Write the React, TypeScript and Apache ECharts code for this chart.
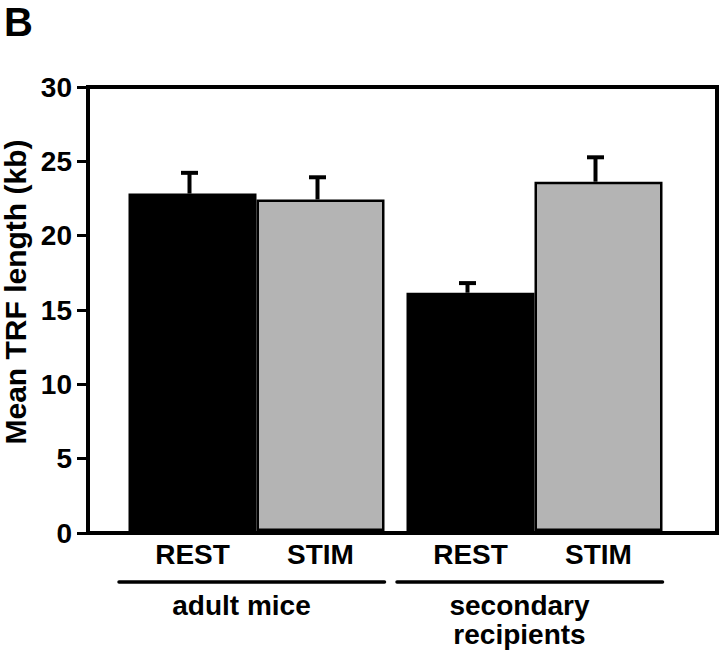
import React, { useEffect, useRef } from "react";
import * as echarts from "echarts";

const groups = ["adult mice", "secondary recipients"];
const conditions = ["REST", "STIM"];
const restMeans = [22.8, 16.1];
const restErrors = [1.4, 0.65];
const stimMeans = [22.4, 23.6];
const stimErrors = [1.5, 1.65];
const yMin = 0;
const yMax = 30;
const yInterval = 5;
const yTitle = "Mean TRF length (kb)";
const panelLetter = "B";

const FONT = "'Liberation Sans', Arial, Helvetica, sans-serif";
const BAR_W = 128;

export default function App() {
  const ref = useRef<HTMLDivElement>(null);
  useEffect(() => {
    if (!ref.current) return;
    const chart = echarts.init(ref.current, null, { renderer: "svg" });

    const errSeries = (name: string, means: number[], errs: number[], sIdx: number) => ({
      type: "custom",
      name: name + " err",
      xAxisIndex: 1,
      yAxisIndex: 1,
      z: 5,
      data: means.map((m, i) => [i, m, errs[i]]),
      encode: { x: 0, y: 1 },
      renderItem: (params: any, api: any) => {
        const cat = api.value(0);
        const m = api.value(1);
        const e = api.value(2);
        const cx = api.coord([cat, 0])[0] + (sIdx - 0.5) * BAR_W - 3;
        const yBar = api.coord([cat, m])[1];
        const yTop = api.coord([cat, m + e])[1];
        return {
          type: "group",
          children: [
            { type: "line", shape: { x1: cx, y1: yBar, x2: cx, y2: yTop }, style: { stroke: "#000", lineWidth: 4 } },
            { type: "line", shape: { x1: cx - 8.5, y1: yTop, x2: cx + 8.5, y2: yTop }, style: { stroke: "#000", lineWidth: 4 } },
          ],
        };
      },
    });

    const barLabel = (text: string) => ({
      show: true,
      position: "bottom",
      distance: 9,
      formatter: text,
      color: "#000",
      fontSize: 28,
      fontWeight: "bold",
      fontFamily: FONT,
    });

    const staticGraphics = [
      {
        type: "text",
        left: 4,
        top: 2,
        style: { text: panelLetter, fontSize: 40, fontWeight: "bold", fontFamily: FONT, fill: "#000" },
      },
      {
        type: "text",
        x: 15,
        y: 292,
        rotation: Math.PI / 2,
        style: { text: yTitle, fontSize: 30, fontWeight: "bold", fontFamily: FONT, fill: "#000", align: "center", verticalAlign: "middle" },
      },
    ];

    chart.setOption({
      animation: false,
      backgroundColor: "#fff",
      textStyle: { fontFamily: FONT },
      grid: [
        { left: 88, right: 3, top: 87, bottom: 122, show: true, borderColor: "#000", borderWidth: 4, backgroundColor: "transparent" },
        { left: 117.5, right: 46.5, top: 87, bottom: 124 },
      ],
      xAxis: [
        { gridIndex: 0, type: "category", data: groups, show: false },
        {
          gridIndex: 1,
          type: "category",
          data: groups,
          axisLine: { show: false },
          axisTick: { show: false },
          axisLabel: {
            show: true,
            interval: 0,
            margin: 60,
            color: "#000",
            fontSize: 28,
            fontWeight: "bold",
            fontFamily: FONT,
            lineHeight: 29,
            verticalAlign: "top",
            padding: [0, 30, 0, 0],
            formatter: (v: string) => (v.length > 12 ? v.replace(" ", "\n") : v),
          },
        },
      ],
      yAxis: [
        {
          gridIndex: 0,
          type: "value",
          min: yMin,
          max: yMax,
          interval: yInterval,
          axisLine: { show: true, lineStyle: { color: "#000", width: 4 } },
          axisTick: { show: true, length: 11, lineStyle: { color: "#000", width: 3 } },
          axisLabel: { color: "#000", fontSize: 28, fontWeight: "bold", fontFamily: FONT, margin: 16 },
          splitLine: { show: false },
        },
        { gridIndex: 1, type: "value", min: yMin, max: yMax, show: false, splitLine: { show: false } },
      ],
      series: [
        {
          type: "bar",
          name: conditions[0],
          xAxisIndex: 1,
          yAxisIndex: 1,
          data: restMeans,
          barWidth: BAR_W,
          barGap: "0%",
          itemStyle: { color: "#000" },
          label: barLabel(conditions[0]),
        },
        {
          type: "bar",
          name: conditions[1],
          xAxisIndex: 1,
          yAxisIndex: 1,
          data: stimMeans,
          barWidth: BAR_W,
          barGap: "0%",
          itemStyle: { color: "#b4b4b4", borderColor: "#000", borderWidth: 2.5 },
          label: barLabel(conditions[1]),
        },
        errSeries(conditions[0], restMeans, restErrors, 0),
        errSeries(conditions[1], stimMeans, stimErrors, 1),
      ],
      graphic: staticGraphics,
    });

    // group underline rules, positioned from the category axis
    const c0 = chart.convertToPixel({ xAxisIndex: 1 } as any, groups[0]) as number;
    const c1 = chart.convertToPixel({ xAxisIndex: 1 } as any, groups[1]) as number;
    const band = c1 - c0;
    const lines = [c0, c1].map((c) => ({
      type: "line",
      shape: { x1: c - band / 2 + 1.5, y1: 582, x2: c + BAR_W, y2: 582 },
      style: { stroke: "#000", lineWidth: 3.5, lineCap: "round" },
    }));
    chart.setOption({ graphic: [...staticGraphics, ...lines] });

    return () => chart.dispose();
  }, []);
  return <div ref={ref} style={{ position: "fixed", left: 0, top: 0, width: 720, height: 655 }} />;
}
